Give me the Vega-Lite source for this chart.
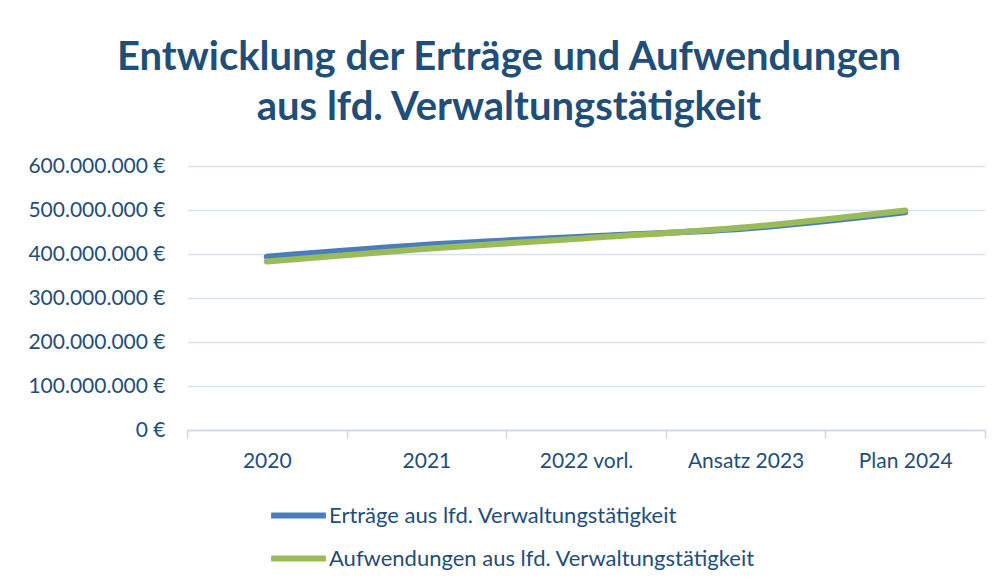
{
  "$schema": "https://vega.github.io/schema/vega-lite/v6.json",
  "width": 798,
  "height": 264,
  "autosize": {"type": "none"},
  "padding": {"left": 187, "top": 166, "right": 12, "bottom": 158},
  "background": "white",
  "title": {
    "text": ["Entwicklung der Erträge und Aufwendungen", "aus lfd. Verwaltungstätigkeit"],
    "font": "Lato",
    "fontSize": 40,
    "fontWeight": "bold",
    "color": "#1F4E79",
    "anchor": "middle",
    "dx": -77,
    "offset": 27,
    "lineHeight": 50
  },
  "data": {
    "values": [
      {"jahr": "2020", "serie": "Erträge aus lfd. Verwaltungstätigkeit", "wert": 394000000},
      {"jahr": "2021", "serie": "Erträge aus lfd. Verwaltungstätigkeit", "wert": 421000000},
      {"jahr": "2022 vorl.", "serie": "Erträge aus lfd. Verwaltungstätigkeit", "wert": 440000000},
      {"jahr": "Ansatz 2023", "serie": "Erträge aus lfd. Verwaltungstätigkeit", "wert": 458000000},
      {"jahr": "Plan 2024", "serie": "Erträge aus lfd. Verwaltungstätigkeit", "wert": 495000000},
      {"jahr": "2020", "serie": "Aufwendungen aus lfd. Verwaltungstätigkeit", "wert": 383000000},
      {"jahr": "2021", "serie": "Aufwendungen aus lfd. Verwaltungstätigkeit", "wert": 412000000},
      {"jahr": "2022 vorl.", "serie": "Aufwendungen aus lfd. Verwaltungstätigkeit", "wert": 436000000},
      {"jahr": "Ansatz 2023", "serie": "Aufwendungen aus lfd. Verwaltungstätigkeit", "wert": 461000000},
      {"jahr": "Plan 2024", "serie": "Aufwendungen aus lfd. Verwaltungstätigkeit", "wert": 499000000}
    ]
  },
  "mark": {"type": "line", "strokeWidth": 6, "interpolate": "monotone", "strokeCap": "round", "strokeJoin": "round"},
  "encoding": {
    "x": {
      "field": "jahr",
      "type": "nominal",
      "sort": null,
      "scale": {"paddingInner": 0, "paddingOuter": 0},
      "axis": {
        "title": null,
        "labelAngle": 0,
        "labelFont": "Lato",
        "labelFontSize": 21,
        "labelColor": "#1F4E79",
        "labelPadding": 12,
        "domainColor": "#C9D8EE",
        "domainWidth": 1.5,
        "tickColor": "#C9D8EE",
        "tickWidth": 1.5,
        "tickSize": 8,
        "tickBand": "extent",
        "grid": false
      }
    },
    "y": {
      "field": "wert",
      "type": "quantitative",
      "scale": {"domain": [0, 600000000]},
      "axis": {
        "title": null,
        "values": [0, 100000000, 200000000, 300000000, 400000000, 500000000, 600000000],
        "labelExpr": "replace(format(datum.value, ',.0f'), /,/g, '.') + ' €'",
        "labelFont": "Lato",
        "labelFontSize": 21,
        "labelColor": "#1F4E79",
        "labelPadding": 22,
        "ticks": false,
        "domain": false,
        "gridColor": "#D6E1F2",
        "gridWidth": 1.5
      }
    },
    "color": {
      "field": "serie",
      "type": "nominal",
      "sort": ["Erträge aus lfd. Verwaltungstätigkeit", "Aufwendungen aus lfd. Verwaltungstätigkeit"],
      "scale": {
        "domain": ["Erträge aus lfd. Verwaltungstätigkeit", "Aufwendungen aus lfd. Verwaltungstätigkeit"],
        "range": ["#4A7EBB", "#9BBB59"]
      },
      "legend": {
        "title": null,
        "orient": "none",
        "legendX": 81,
        "legendY": 319,
        "direction": "vertical",
        "symbolType": "stroke",
        "symbolSize": 3000,
        "symbolStrokeWidth": 6,
        "labelFont": "Lato",
        "labelFontSize": 22,
        "labelColor": "#1F4E79",
        "labelOffset": 0,
        "rowPadding": -18,
        "labelLimit": 700
      }
    }
  },
  "config": {"view": {"stroke": null}}
}
